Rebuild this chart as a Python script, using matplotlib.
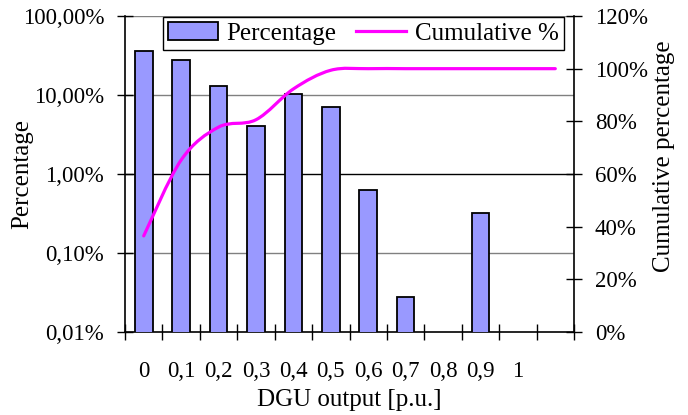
import numpy as np
import matplotlib
matplotlib.use("Agg")
import matplotlib.pyplot as plt
from matplotlib.path import Path
from matplotlib.patches import PathPatch, Patch
from matplotlib.lines import Line2D

plt.rcParams['font.family'] = ['Liberation Serif', 'DejaVu Serif']

# data
categories = ['0', '0,1', '0,2', '0,3', '0,4', '0,5', '0,6', '0,7', '0,8', '0,9', '1', '']
percentage = [36.4, 27.7, 12.9, 4.05, 10.3, 6.98, 0.627, 0.028, 0, 0.318, 0, 0]
cumulative = [36.5, 65.3, 77.8, 80.6, 92.3, 99.4, 100, 100, 100, 100, 100, 100]
left_ticks = [0.01, 0.1, 1, 10, 100]
left_ticklabels = ['0,01%', '0,10%', '1,00%', '10,00%', '100,00%']
right_ticks = [0, 20, 40, 60, 80, 100, 120]
right_ticklabels = ['0%', '20%', '40%', '60%', '80%', '100%', '120%']

x = np.arange(len(categories))

fig = plt.figure(figsize=(6.88, 4.15), dpi=100)
ax = fig.add_axes([125/688, 1-332/415, 449/688, 316/415])

pct = np.array(percentage)
nz = pct > 0
ax.bar(x[nz], pct[nz], width=0.47, color='#9999ff',
       edgecolor='black', linewidth=1.3, zorder=3)
ax.set_yscale('log')
ax.set_ylim(0.01, 100)
ax.set_xlim(-0.5, len(categories) - 0.5)

# gridlines (the 1% line is black in the original)
for v in left_ticks[1:]:
    ax.axhline(v, color='black' if v == 1 else '#808080', lw=1.0, zorder=1)

ax.yaxis.set_major_locator(matplotlib.ticker.FixedLocator(left_ticks))
ax.yaxis.set_minor_locator(matplotlib.ticker.NullLocator())
ax.set_yticklabels(left_ticklabels)

ax.set_xticks(np.arange(-0.5, len(categories), 1.0))
ax.set_xticklabels([])
ax.set_xticks(x, minor=True)
ax.set_xticklabels(categories, minor=True)
ax.tick_params(axis='x', which='major', direction='inout', length=12, width=1)
ax.tick_params(axis='x', which='minor', length=0, pad=21, labelsize=16.5)
ax.tick_params(axis='y', which='major', direction='inout', length=12, width=1,
               pad=9, labelsize=16.5)

for s in ['top', 'right']:
    ax.spines[s].set_visible(False)
ax.spines['left'].set_linewidth(1.2)
ax.spines['bottom'].set_linewidth(1.2)

ax.set_xlabel('DGU output [p.u.]', fontsize=18, labelpad=5)
ax.set_ylabel('Percentage', fontsize=18)
ax.yaxis.set_label_coords(-0.205, 0.5)

# secondary axis for cumulative line
ax2 = ax.twinx()
ax2.set_ylim(0, 120)
ax2.set_yticks(right_ticks)
ax2.set_yticklabels(right_ticklabels)
ax2.tick_params(axis='y', direction='inout', length=12, width=1, pad=9, labelsize=16.5)
for s in ['top', 'left', 'bottom']:
    ax2.spines[s].set_visible(False)
ax2.spines['right'].set_linewidth(1.2)
ax2.set_ylabel('Cumulative percentage', fontsize=18, rotation=90)
ax2.yaxis.set_label_coords(1.176, 0.555)

# smoothed line (Bezier through the points, like a spreadsheet "smoothed line")
pts = np.column_stack([x, cumulative]).astype(float)
n = len(pts)
verts = [pts[0]]
codes = [Path.MOVETO]
for i in range(n - 1):
    p0 = pts[i - 1] if i > 0 else pts[i]
    p1 = pts[i]
    p2 = pts[i + 1]
    p3 = pts[i + 2] if i + 2 < n else pts[i + 1]
    c1 = p1 + (p2 - p0) / 6.0
    c2 = p2 - (p3 - p1) / 6.0
    verts += [c1, c2, p2]
    codes += [Path.CURVE4] * 3
ax2.add_patch(PathPatch(Path(verts, codes), fill=False, edgecolor='#ff00ff',
                        lw=2.3, capstyle='round', zorder=4))

handles = [Patch(facecolor='#9999ff', edgecolor='black', linewidth=1.3),
           Line2D([], [], color='#ff00ff', lw=2.3)]
leg = ax2.legend(handles, ['Percentage', 'Cumulative %'], ncol=2,
                 loc='upper center', bbox_to_anchor=(0.531, 1.0),
                 fontsize=18, frameon=True, fancybox=False, shadow=False,
                 handlelength=2.0, handletextpad=0.35, columnspacing=0.8,
                 borderpad=0.2, borderaxespad=0.05)
leg.get_frame().set_edgecolor('black')
leg.get_frame().set_linewidth(1.0)
leg.get_frame().set_alpha(1)

fig.savefig('out.png', dpi=100)
